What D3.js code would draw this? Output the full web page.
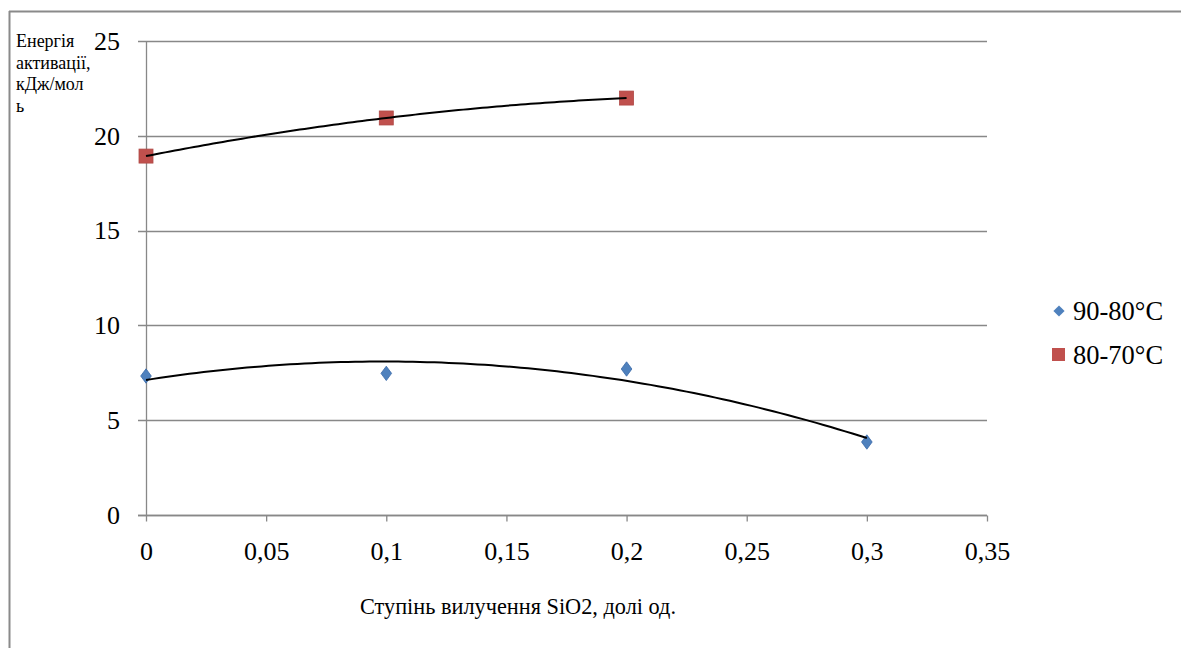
<!DOCTYPE html>
<html><head><meta charset="utf-8">
<script src="https://cdn.jsdelivr.net/npm/d3@7"></script>
<style>
html,body{margin:0;padding:0;background:#fff;}
svg{display:block;}
svg text{font-family:"Liberation Serif","Times New Roman",Times,serif !important;fill:#000;}
</style></head>
<body>
<script>
const xTicks = [0, 0.05, 0.1, 0.15, 0.2, 0.25, 0.3, 0.35];
const xTickLabels = ["0", "0,05", "0,1", "0,15", "0,2", "0,25", "0,3", "0,35"];
const yTicks = [0, 5, 10, 15, 20, 25];
const series1Name = "90-80°C";
const series1X = [0, 0.1, 0.2, 0.3];
const series1Y = [7.33, 7.47, 7.7, 3.85];
const series2Name = "80-70°C";
const series2X = [0, 0.1, 0.2];
const series2Y = [18.93, 20.94, 21.99];
const xTitle = "Ступінь вилучення SiO2, долі од.";
const yTitleLines = ["Енергія", "активації,", "кДж/мол", "ь"];

const W = 1181, H = 648;
const FONT = "'Liberation Serif', 'Times New Roman', Times, serif";
const svg = d3.select("body").append("svg").attr("width", W).attr("height", H);

const x = d3.scaleLinear().domain([0, 0.35]).range([146, 987]);
const y = d3.scaleLinear().domain([0, 25]).range([515, 41]);

// frame (top & left)
svg.append("line").attr("x1", 9).attr("x2", W).attr("y1", 11.5).attr("y2", 11.5).attr("stroke", "#8a8a8a").attr("stroke-width", 2);
svg.append("line").attr("x1", 9.5).attr("x2", 9.5).attr("y1", 11).attr("y2", H).attr("stroke", "#8a8a8a").attr("stroke-width", 2);

// gridlines
svg.append("g").selectAll("line").data(yTicks).join("line")
  .attr("x1", 138).attr("x2", 987)
  .attr("y1", d => Math.round(y(d)) + 0.5).attr("y2", d => Math.round(y(d)) + 0.5)
  .attr("stroke", "#888").attr("stroke-width", 1.3);

// y axis
const yAxis = d3.axisLeft(y).tickValues(yTicks).tickSize(0).tickPadding(26).tickFormat(d => d);
const gy = svg.append("g").attr("transform", "translate(146,0)").call(yAxis).attr("font-family", FONT);
gy.select(".domain").attr("stroke", "#888").attr("stroke-width", 1.3);
gy.selectAll("text").attr("font-family", FONT).style("font-size", "26px");

// x axis
const xAxis = d3.axisBottom(x).tickValues(xTicks).tickSize(6).tickPadding(20)
  .tickFormat((d, i) => xTickLabels[i]);
const gx = svg.append("g").attr("transform", "translate(0,515.5)").call(xAxis).attr("font-family", FONT);
gx.select(".domain").attr("stroke", "#888").attr("stroke-width", 1.3).attr("d", "M138,0H987");
gx.selectAll(".tick line").attr("stroke", "#888").attr("stroke-width", 1.3);
gx.selectAll("text").attr("font-family", FONT).style("font-size", "26px");

// quadratic least-squares fit for trendlines
function quadFit(xs, ys) {
  const S = k => d3.sum(xs, v => Math.pow(v, k));
  const T = k => d3.sum(xs, (v, i) => Math.pow(v, k) * ys[i]);
  const A = [[S(0), S(1), S(2)], [S(1), S(2), S(3)], [S(2), S(3), S(4)]];
  const b = [T(0), T(1), T(2)];
  const n = 3;
  for (let i = 0; i < n; i++) {
    for (let j = i + 1; j < n; j++) {
      const f = A[j][i] / A[i][i];
      for (let k = i; k < n; k++) A[j][k] -= f * A[i][k];
      b[j] -= f * b[i];
    }
  }
  const c = [0, 0, 0];
  for (let i = n - 1; i >= 0; i--) {
    let s = b[i];
    for (let k = i + 1; k < n; k++) s -= A[i][k] * c[k];
    c[i] = s / A[i][i];
  }
  return v => c[0] + c[1] * v + c[2] * v * v;
}

const line = d3.line().x(d => x(d[0])).y(d => y(d[1]));
function trend(xs, ys) {
  const f = quadFit(xs, ys);
  const x0 = d3.min(xs), x1 = d3.max(xs);
  const pts = d3.range(0, 101).map(i => { const v = x0 + (x1 - x0) * i / 100; return [v, f(v)]; });
  svg.append("path").attr("d", line(pts)).attr("fill", "none").attr("stroke", "#000").attr("stroke-width", 2);
}

// markers
const blue = "#4F81BD", red = "#C0504D";
svg.append("g").selectAll("path").data(series1X.map((v, i) => [v, series1Y[i]])).join("path")
  .attr("d", d3.symbol().type(d3.symbolDiamond2).size(100))
  .attr("transform", d => `translate(${x(d[0])},${y(d[1])}) scale(0.85,1.15)`)
  .attr("fill", blue).attr("stroke", "#3a6aa8").attr("stroke-width", 0.8);
svg.append("g").selectAll("rect").data(series2X.map((v, i) => [v, series2Y[i]])).join("rect")
  .attr("x", d => x(d[0]) - 7).attr("y", d => y(d[1]) - 7).attr("width", 14).attr("height", 14)
  .attr("fill", red).attr("stroke", "#b04a47").attr("stroke-width", 0.8);

trend(series2X, series2Y);
trend(series1X, series1Y);

// legend
const lg = svg.append("g").attr("font-family", FONT);
lg.append("path").attr("d", d3.symbol().type(d3.symbolDiamond2).size(80)).attr("transform", "translate(1059,311)").attr("fill", blue);
lg.append("text").attr("x", 1073).attr("y", 320).style("font-size", "26.5px").text(series1Name);
lg.append("rect").attr("x", 1052).attr("y", 348).attr("width", 13).attr("height", 13).attr("fill", red);
lg.append("text").attr("x", 1073).attr("y", 364).style("font-size", "26.5px").text(series2Name);

// axis titles
svg.append("text").attr("font-family", FONT).attr("x", 518).attr("y", 614).attr("text-anchor", "middle").style("font-size", "22.3px").text(xTitle);
svg.append("g").attr("font-family", FONT).selectAll("text").data(yTitleLines).join("text")
  .attr("x", 16).attr("y", (d, i) => 47 + i * 21.5).style("font-size", "18px").text(d => d);
</script>
</body></html>
